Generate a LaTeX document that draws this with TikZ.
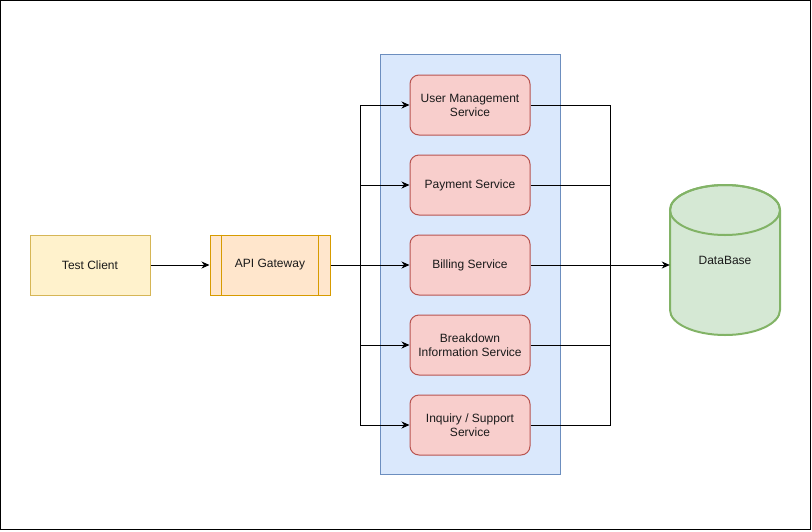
\documentclass[tikz,border=0pt]{standalone}
\usepackage{fontspec}
\setmainfont{Liberation Sans}
\usetikzlibrary{arrows.meta}
\definecolor{clientfill}{HTML}{FFF2CC}
\definecolor{clientline}{HTML}{D6B656}
\definecolor{gwfill}{HTML}{FFE6CC}
\definecolor{gwline}{HTML}{D79B00}
\definecolor{groupfill}{HTML}{DAE8FC}
\definecolor{groupline}{HTML}{6C8EBF}
\definecolor{svcfill}{HTML}{F8CECC}
\definecolor{svcline}{HTML}{B85450}
\definecolor{dbfill}{HTML}{D5E8D4}
\definecolor{dbline}{HTML}{82B366}
\definecolor{txt}{HTML}{1A1A1A}
\tikzset{
  label font/.style={font=\fontsize{12}{14}\selectfont, text=txt, align=center},
  plainbox/.style={label font, draw, line width=1pt, minimum width=120pt, minimum height=60pt, inner sep=0pt},
  clientbox/.style={plainbox, fill=clientfill, draw=clientline},
  gatewaybox/.style={plainbox, fill=gwfill, draw=gwline},
  groupbox/.style={draw=groupline, fill=groupfill, line width=1pt, minimum width=180pt, minimum height=420pt, inner sep=0pt},
  servicebox/.style={plainbox, fill=svcfill, draw=svcline, rounded corners=9pt},
  dbnode/.style={label font, minimum width=110pt, minimum height=150pt, inner sep=0pt},
  link/.style={line width=1pt, draw=black},
  arrowlink/.style={link, -{Stealth[length=8pt, width=7pt, inset=2.5pt]}},
}
\begin{document}
\begin{tikzpicture}[x=1pt, y=-1pt]
  \useasboundingbox (0,0) rectangle (812,531);
  % outer frame
  \draw[line width=1pt] (0.5,0.5) rectangle (810.5,529.5);

  % services container
  \node[groupbox] (group) at (470,264) {};

  % clients and gateway
  \node[clientbox] (client) at (90,265) {Test Client};
  \node[gatewaybox] (gw) at (270,265) {API Gateway};
  \draw[draw=gwline, line width=1pt] ([xshift=12pt]gw.north west) -- ([xshift=12pt]gw.south west);
  \draw[draw=gwline, line width=1pt] ([xshift=-12pt]gw.north east) -- ([xshift=-12pt]gw.south east);

  % services
  \node[servicebox] (user) at (470,105) {User Management\\Service};
  \node[servicebox] (pay) at (470,185) {Payment Service};
  \node[servicebox] (bill) at (470,265) {Billing Service};
  \node[servicebox] (break) at (470,345) {Breakdown\\Information Service};
  \node[servicebox] (inq) at (470,425) {Inquiry / Support\\Service};

  % database
  \node[dbnode] (db) at (725,260) {};
  \draw[draw=dbline, fill=dbfill, line width=2pt]
    (670,210) -- (670,310) arc[start angle=180, end angle=0, x radius=55, y radius=25]
    -- (780,210) arc[start angle=0, end angle=-180, x radius=55, y radius=25] -- cycle;
  \draw[draw=dbline, line width=2pt] (725,210) ellipse[x radius=55, y radius=25];
  \node[label font] (dblabel) at (db.center) {DataBase};

  % connectors
  \coordinate (split) at (360,265);
  \coordinate (join) at (610,265);
  \draw[arrowlink] (client) -- (gw);
  \draw[arrowlink] (gw) -- (bill);
  \draw[arrowlink] (split) |- (user.west);
  \draw[arrowlink] (split) |- (pay.west);
  \draw[arrowlink] (split) |- (break.west);
  \draw[arrowlink] (split) |- (inq.west);
  \draw[link] (user.east) -| (join);
  \draw[link] (pay.east) -| (join);
  \draw[link] (break.east) -| (join);
  \draw[link] (inq.east) -| (join);
  \draw[arrowlink] (bill.east) -- (bill.east -| db.west);
\end{tikzpicture}
\end{document}
